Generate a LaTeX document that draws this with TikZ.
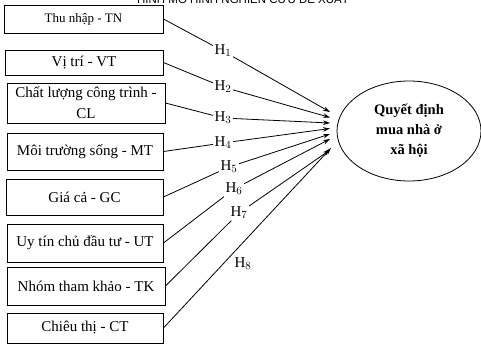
\documentclass[tikz,border=0pt]{standalone}
\usepackage{fontspec}
\setmainfont{Liberation Serif}
\setsansfont{Liberation Sans}
\usepackage{tikz}
\usetikzlibrary{arrows.meta, positioning, shapes.geometric}

\begin{document}
\begin{tikzpicture}[
        x=1pt, y=-1pt,
        factor/.style={rectangle, draw, line width=0.9pt, inner sep=1pt, align=center, font=\fontsize{15}{21}\selectfont},
        target/.style={ellipse, draw, line width=0.8pt, inner sep=0pt, align=center, font=\fontsize{14.5}{20}\selectfont\bfseries},
        hyp/.style={inner sep=1.5pt, font=\fontsize{15}{18}\selectfont},
        link/.style={line width=0.8pt},
        arrow/.style={link, -{Stealth[length=7pt, width=4.5pt]}}
    ]
    \useasboundingbox (0,0) rectangle (481,345);

    % tieu de (bi cat)
    \node[anchor=base, font=\sffamily\fontsize{11.5}{13}\selectfont] (title) at (243,4) {HÌNH MÔ HÌNH NGHIÊN CỨU ĐỀ XUẤT};

    % cac nhan to
    \node[factor, minimum width=159pt, minimum height=28pt, font=\fontsize{13}{16}\selectfont] (tn) at (83.5,19) {Thu nhập - TN};
    \node[factor, minimum width=158pt, minimum height=25pt] (vt) at (84,62.5) {Vị trí - VT};
    \node[factor, minimum width=158pt, minimum height=40pt, inner sep=0pt] (cl) at (86,103) {Chất lượng công trình -\\CL};
    \node[factor, minimum width=156pt, minimum height=37pt] (mt) at (85,151.5) {Môi trường sống - MT};
    \node[factor, minimum width=157pt, minimum height=36pt] (gc) at (84.5,197) {Giá cả - GC};
    \node[factor, minimum width=156pt, minimum height=38pt] (ut) at (85,243) {Uy tín chủ đầu tư - UT};
    \node[factor, minimum width=158pt, minimum height=38pt] (tk) at (86,286) {Nhóm tham khảo - TK};
    \node[factor, minimum width=156pt, minimum height=30pt] (ct) at (85,328) {Chiêu thị - CT};

    % bien phu thuoc
    \node[target, minimum width=144pt, minimum height=100pt] (qd) at (409,131) {Quyết định\\mua nhà ở\\xã hội};

    % gia thuyet
    \node[hyp] (h1) at (223,51) {H$_1$};
    \node[hyp] (h2) at (223,87) {H$_2$};
    \node[hyp] (h3) at (223,118) {H$_3$};
    \node[hyp] (h4) at (223,143) {H$_4$};
    \node[hyp] (h5) at (229,167) {H$_5$};
    \node[hyp] (h6) at (234,189) {H$_6$};
    \node[hyp] (h7) at (239,213) {H$_7$};
    \node[hyp] (h8) at (243,264) {H$_8$};

    % dau mui ten
    \coordinate (t1) at (330,112);
    \coordinate (t2) at (330,117.5);
    \coordinate (t3) at (330,123);
    \coordinate (t4) at (330,128.5);
    \coordinate (t5) at (330,134);
    \coordinate (t6) at (330,139);
    \coordinate (t7) at (330,150);
    \coordinate (t8) at (331,148);

    % ket noi
    \draw[link] (tn.east) -- (h1);
    \draw[arrow] (h1) -- (t1);
    \draw[link] (vt.east) -- (h2);
    \draw[arrow] (h2) -- (t2);
    \draw[link] (cl.east) -- (h3);
    \draw[arrow] (h3) -- (t3);
    \draw[link] (mt.east) -- (h4);
    \draw[arrow] (h4) -- (t4);
    \draw[link] (gc.east) -- (h5);
    \draw[arrow] (h5) -- (t5);
    \draw[link] (ut.east) -- (h6);
    \draw[arrow] (h6) -- (t6);
    \draw[link] (tk.east) -- (h7);
    \draw[arrow] (h7) -- (t7);
    \draw[arrow] (ct.east) -- (t8);

\end{tikzpicture}
\end{document}
